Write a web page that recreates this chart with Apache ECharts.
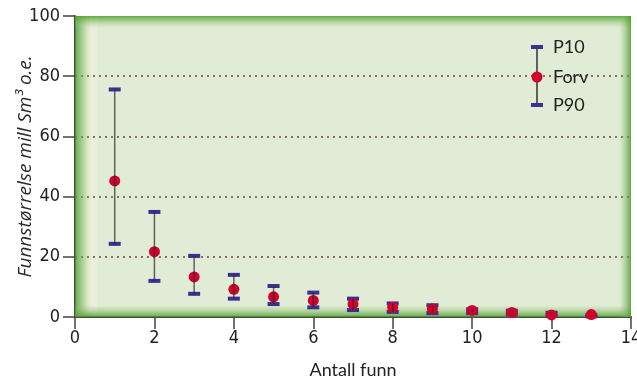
<!DOCTYPE html>
<html><head><meta charset="utf-8">
<script src="https://cdn.jsdelivr.net/npm/echarts@6/dist/echarts.min.js"></script>
<style>html,body{margin:0;padding:0;background:#fff}#c{width:637px;height:385px}</style>
</head><body><div id="c"></div>
<script>
const antall = [1,2,3,4,5,6,7,8,9,10,11,12,13];
const p10  = [75.6,34.9,20.3,14.0,10.3,8.1,6.1,4.5,3.9,2.6,2.1,1.4,0.6];
const forv = [45.2,21.7,13.3,9.2,6.7,5.5,4.3,3.2,2.7,2.2,1.5,0.7,0.8];
const p90  = [24.3,12.0,7.7,6.1,4.3,3.2,2.3,1.7,1.3,1.3,0.9,0.4,0.2];
const xTicks = [0,2,4,6,8,10,12,14];
const yTicks = [0,20,40,60,80,100];
const legendNames = ['P10','Forv','P90'];

const CAP = '#3b2f8f', DOT = '#d4002c';
const G = {l:75, t:16, w:556, h:301};
const chart = echarts.init(document.getElementById('c'));
const numFont = '"Liberation Sans Narrow","DejaVu Sans Condensed",sans-serif';

const data = antall.map((x,i)=>[x,p10[i],forv[i],p90[i]]);

function bgEls(){
  const g = (x0,y0,x1,y1,a)=>new echarts.graphic.LinearGradient(x0,y0,x1,y1,[{offset:0,color:'rgba(75,158,40,'+a+')'},{offset:1,color:'rgba(150,195,120,0)'}]);
  return [
    {type:'rect', z:-20, silent:true, shape:{x:G.l,y:G.t,width:G.w,height:G.h}, style:{fill:'#e1ecd6'}},
    {type:'rect', z:-19, silent:true, shape:{x:G.l+10,y:G.t,width:12,height:G.h}, style:{fill:'rgba(246,240,224,0.55)'}},
    {type:'rect', z:1, silent:true, shape:{x:G.l,y:G.t,width:16,height:G.h}, style:{fill:g(0,0,1,0,0.85)}},
    {type:'rect', z:1, silent:true, shape:{x:G.l,y:G.t,width:G.w,height:12}, style:{fill:g(0,0,0,1,0.85)}},
    {type:'rect', z:1, silent:true, shape:{x:G.l,y:G.t+G.h-12,width:G.w,height:12}, style:{fill:g(0,1,0,0,0.85)}},
    {type:'rect', z:1, silent:true, shape:{x:G.l+G.w-12,y:G.t,width:12,height:G.h}, style:{fill:g(1,0,0,0,0.85)}}
  ];
}
function legendEls(){
  const lx=537, ys=[47,77,105], tx=553;
  const els=[
    {type:'line', z:10, shape:{x1:lx,y1:ys[0],x2:lx,y2:ys[2]}, style:{stroke:'#333',lineWidth:1.5}},
    {type:'rect', z:11, shape:{x:lx-6,y:ys[0]-2,width:12,height:4}, style:{fill:CAP}},
    {type:'rect', z:11, shape:{x:lx-6,y:ys[2]-2,width:12,height:4}, style:{fill:CAP}},
    {type:'circle', z:11, shape:{cx:lx,cy:ys[1],r:5.5}, style:{fill:DOT}}
  ];
  legendNames.forEach((n,i)=>els.push({type:'text', z:11, x:tx, y:ys[i], style:{text:n, fill:'#222', font:'18px Lato, sans-serif', verticalAlign:'middle', textAlign:'left'}}));
  return els;
}

chart.setOption({
  animation:false,
  grid:{left:G.l, top:G.t, width:G.w, height:G.h, containLabel:false, outerBoundsMode:'none'},
  xAxis:{type:'value', min:xTicks[0], max:xTicks[xTicks.length-1], interval:2,
    axisLine:{onZero:false, lineStyle:{color:'#4a4a4a', width:2}},
    axisTick:{show:true, length:12, lineStyle:{color:'#444', width:1.5}},
    axisLabel:{color:'#222', fontFamily:numFont, fontSize:18, margin:12},
    splitLine:{show:false},
    name:'Antall funn', nameLocation:'middle', nameGap:44, nameMoveOverlap:false,
    nameTextStyle:{color:'#222', fontFamily:'Lato, sans-serif', fontSize:18}},
  yAxis:{type:'value', min:yTicks[0], max:yTicks[yTicks.length-1], interval:20,
    axisLine:{show:true, lineStyle:{color:'#4a4a4a', width:2}},
    axisTick:{show:true, length:12, lineStyle:{color:'#444', width:1.5}},
    axisLabel:{color:'#222', fontFamily:numFont, fontSize:18, margin:15},
    splitLine:{show:true, showMaxLine:false, lineStyle:{color:'#8c6a68', type:[2,4], width:2}},
    name:'Funnstørrelse mill Sm³ o.e.', nameLocation:'middle', nameGap:40, nameMoveOverlap:false,
    nameTextStyle:{color:'#2a2a2a', fontFamily:'"Open Sans", sans-serif', fontStyle:'italic', fontSize:19}},
  graphic:{elements: bgEls().concat(legendEls())},
  series:[
    {type:'custom', data:data, z:5,
      renderItem:function(params, api){
        const x=api.value(0);
        const a=api.coord([x,api.value(1)]);
        const m=api.coord([x,api.value(2)]);
        const b=api.coord([x,api.value(3)]);
        return {type:'group', children:[
          {type:'rect', shape:{x:a[0]-6,y:a[1]-2,width:12,height:4}, style:{fill:CAP}},
          {type:'rect', shape:{x:b[0]-6,y:b[1]-2,width:12,height:4}, style:{fill:CAP}},
          {type:'circle', shape:{cx:m[0],cy:m[1],r:5.5}, style:{fill:DOT}},
          {type:'line', shape:{x1:a[0],y1:a[1],x2:b[0],y2:b[1]}, style:{stroke:'rgba(40,40,40,0.7)',lineWidth:1.5}}
        ]};
      }
    }
  ]
});
</script></body></html>
